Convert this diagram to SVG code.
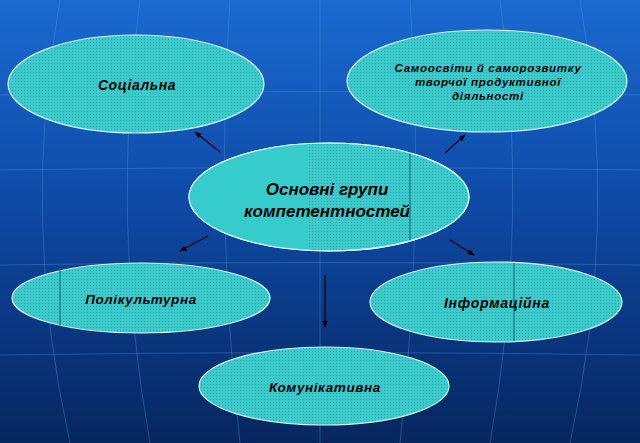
<svg xmlns="http://www.w3.org/2000/svg" width="640" height="443" viewBox="0 0 640 443">
<defs>
<linearGradient id="bg" x1="0" y1="0" x2="0" y2="1">
<stop offset="0" stop-color="#1a6ad0"/>
<stop offset="0.45" stop-color="#0e4aa6"/>
<stop offset="1" stop-color="#07265f"/>
</linearGradient>
<pattern id="dots" width="3" height="3" patternUnits="userSpaceOnUse">
<rect width="3" height="3" fill="#3ccaca"/>
<rect width="1" height="1" fill="#2aa8b4"/>
</pattern>
<marker id="ah" viewBox="0 0 10 10" refX="9" refY="5" markerWidth="6" markerHeight="6" orient="auto">
<path d="M0,1 L10,5 L0,9 z" fill="#000"/>
</marker>
<clipPath id="cc"><ellipse cx="329" cy="197" rx="140" ry="54"/></clipPath>
</defs>
<style>
.n{fill:url(#dots);stroke:#d8f4f4;stroke-width:1.2}
.t{font-family:"Liberation Sans",Arial,sans-serif;font-weight:bold;font-style:italic;fill:#000;text-anchor:middle}
.s{font-size:13.5px;letter-spacing:0.6px}
.c{stroke:#000;stroke-width:1.2;marker-end:url(#ah)}
.g{stroke:#5a9ae0;stroke-opacity:0.35;stroke-width:1;fill:none}
</style>
<rect width="640" height="443" fill="url(#bg)"/>
<g id="grid">
<path class="g" d="M0,95 Q320,88 640,95"/>
<path class="g" d="M0,170 Q320,165 640,170"/>
<path class="g" d="M0,265 Q320,260 640,265"/>
<path class="g" d="M0,355 Q320,350 640,355"/>
<path class="g" d="M60,0 Q20,220 70,443"/>
<path class="g" d="M140,0 Q110,220 150,443"/>
<path class="g" d="M230,0 Q215,220 240,443"/>
<path class="g" d="M320,0 L320,443"/>
<path class="g" d="M410,0 Q425,220 400,443"/>
<path class="g" d="M500,0 Q530,220 490,443"/>
<path class="g" d="M580,0 Q620,220 570,443"/>
</g>
<g id="connectors">
<line class="c" x1="220" y1="152" x2="195" y2="132"/>
<line class="c" x1="445" y1="153" x2="465" y2="135"/>
<line class="c" x1="208" y1="236" x2="180" y2="251"/>
<line class="c" x1="450" y1="240" x2="474" y2="255"/>
<line class="c" x1="325" y1="275" x2="325" y2="327"/>
</g>
<g id="n-social">
<ellipse class="n" cx="136" cy="84" rx="128" ry="49"/>
<text class="t" x="137" y="90" font-size="14" letter-spacing="0.6">Соціальна</text>
</g>
<g id="n-self">
<ellipse class="n" cx="487" cy="81" rx="140" ry="51"/>
<text class="t" x="488" y="72" font-size="11.5" letter-spacing="0.7">Самоосвіти й саморозвитку</text>
<text class="t" x="488" y="86" font-size="11.5" letter-spacing="0.7">творчої продуктивної</text>
<text class="t" x="488" y="100" font-size="11.5" letter-spacing="0.7">діяльності</text>
</g>
<g id="n-center">
<ellipse class="n" cx="329" cy="197" rx="140" ry="54"/>
<rect x="189" y="143" width="119" height="108" fill="#36cccc" clip-path="url(#cc)"/>
<line x1="410" y1="150" x2="410" y2="243" stroke="#1a5a7a" stroke-width="1"/>
<ellipse cx="329" cy="197" rx="140" ry="54" fill="none" stroke="#d8f4f4" stroke-width="1.2"/>
<text class="t" x="327" y="195" font-size="17">Основні групи</text>
<text class="t" x="327" y="217" font-size="17">компетентностей</text>
</g>
<g id="n-poly">
<ellipse class="n" cx="141" cy="298" rx="129" ry="35"/>
<line x1="60" y1="268" x2="60" y2="327" stroke="#1a5a7a" stroke-width="1"/>
<text class="t s" x="141" y="304">Полікультурна</text>
</g>
<g id="n-info">
<ellipse class="n" cx="496" cy="302" rx="126" ry="40"/>
<line x1="514" y1="263" x2="514" y2="341" stroke="#1a5a7a" stroke-width="1"/>
<text class="t" x="497" y="308" font-size="14" letter-spacing="0.7">Інформаційна</text>
</g>
<g id="n-comm">
<ellipse class="n" cx="324" cy="386" rx="125" ry="39"/>
<text class="t s" x="325" y="392">Комунікативна</text>
</g>
</svg>
